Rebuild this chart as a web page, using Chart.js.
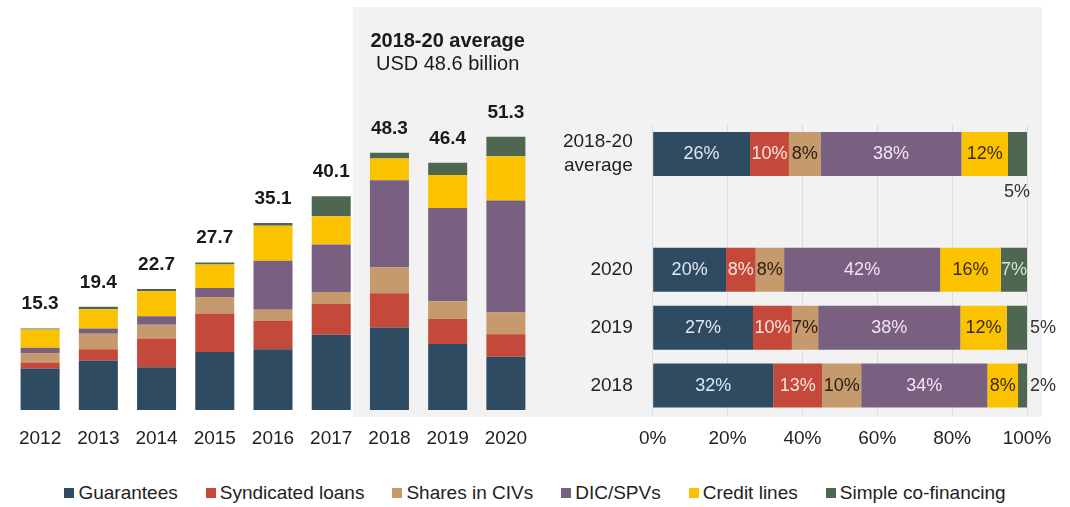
<!DOCTYPE html>
<html>
<head>
<meta charset="utf-8">
<script src="https://cdn.jsdelivr.net/npm/chart.js@4.4.1/dist/chart.umd.min.js"></script>
<style>
html,body{margin:0;padding:0;background:#fff;width:1070px;height:507px;overflow:hidden;font-family:"Liberation Sans",Arial,sans-serif;}
#panel{position:absolute;left:353px;top:7px;width:689px;height:410px;background:#f2f2f2;}
#c1{position:absolute;left:0;top:0;}
#c2{position:absolute;left:540px;top:100px;}
#legend{position:absolute;left:0;top:482px;width:1070px;display:flex;justify-content:center;align-items:center;font-size:19px;line-height:22px;color:#222;}
#legend .item{display:flex;align-items:center;margin:0 14px;}
#legend .sw{width:10px;height:10px;margin-right:4px;}
</style>
</head>
<body>
<div id="panel"></div>
<canvas id="c1" width="545" height="470"></canvas>
<canvas id="c2" width="530" height="370"></canvas>
<div id="legend"></div>
<script>
// ---- categories / series ----
const seriesNames = ['Guarantees', 'Syndicated loans', 'Shares in CIVs', 'DIC/SPVs', 'Credit lines', 'Simple co-financing'];
const seriesColors = ['#2e4b62', '#c4493b', '#c59a6d', '#7a6080', '#fbc200', '#4f6650'];
const labelColors = ['#dfe9f2', '#fde2dc', '#2b1d10', '#f0e6f3', '#3d2a05', '#d2e6d2'];

// Left chart: USD billion per year
const years = ['2012', '2013', '2014', '2015', '2016', '2017', '2018', '2019', '2020'];
const guarantees = [7.8, 9.3, 8.0, 10.9, 11.4, 14.1, 15.5, 12.4, 10.0];
const syndicated = [1.1, 2.1, 5.4, 7.2, 5.3, 5.8, 6.4, 4.7, 4.2];
const sharesCIV  = [1.8, 2.9, 2.6, 3.1, 2.1, 2.25, 4.9, 3.3, 4.1];
const dicSPV     = [1.0, 1.0, 1.6, 1.7, 9.2, 8.9, 16.3, 17.5, 21.0];
const creditLines= [3.4, 3.6, 4.7, 4.4, 6.6, 5.3, 4.1, 6.2, 8.3];
const simpleCof  = [0.2, 0.5, 0.4, 0.4, 0.5, 3.75, 1.1, 2.3, 3.7];
const totals     = [15.3, 19.4, 22.7, 27.7, 35.1, 40.1, 48.3, 46.4, 51.3];
const titleLines = ['2018-20 average', 'USD 48.6 billion'];

// Right chart: shares (%)
const shareRows = [['2018-20', 'average'], '', '2020', '2019', '2018'];
const shGuarantees = [26.0, null, 19.6, 26.8, 32.2];
const shSyndicated = [10.4, null, 7.9, 10.4, 13.1];
const shShares     = [8.4, null, 7.6, 7.0, 10.4];
const shDic        = [37.7, null, 41.7, 38.0, 33.7];
const shCredit     = [12.4, null, 16.2, 12.4, 8.2];
const shSimple     = [5.1, null, 7.0, 5.4, 2.4];
const pctTicks = [0, 20, 40, 60, 80, 100];

const FONT = "'Liberation Sans', Arial, sans-serif";
Chart.defaults.font.family = FONT;
Chart.defaults.color = '#222';

// ---- Left chart ----
const leftSeries = [guarantees, syndicated, sharesCIV, dicSPV, creditLines, simpleCof];
const totalsPlugin = {
  id: 'totals',
  afterDatasetsDraw(chart) {
    const ctx = chart.ctx, xs = chart.scales.x, ys = chart.scales.y;
    ctx.save();
    ctx.fillStyle = '#1a1a1a';
    ctx.font = 'bold 19px ' + FONT;
    ctx.textAlign = 'center';
    ctx.textBaseline = 'alphabetic';
    totals.forEach((t, i) => {
      ctx.fillText(t.toFixed(1), xs.getPixelForValue(i), ys.getPixelForValue(t) - 19);
    });
    const cx = xs.getPixelForValue(7);
    ctx.font = 'bold 20px ' + FONT;
    ctx.fillText(titleLines[0], cx, 47);
    ctx.font = '20px ' + FONT;
    ctx.fillText(titleLines[1], cx, 70);
    ctx.restore();
  }
};
new Chart(document.getElementById('c1'), {
  type: 'bar',
  data: {
    labels: years,
    datasets: leftSeries.map((d, i) => ({
      label: seriesNames[i], data: d, backgroundColor: seriesColors[i],
      borderWidth: 0, barPercentage: 0.67, categoryPercentage: 1
    }))
  },
  options: {
    responsive: false, animation: false,
    layout: { padding: { left: 11, right: 10, top: 37, bottom: 0 } },
    plugins: { legend: { display: false }, tooltip: { enabled: false } },
    scales: {
      x: {
        stacked: true,
        grid: { display: false, drawTicks: false },
        border: { display: false },
        ticks: { font: { size: 19 }, color: '#222', padding: 17 },
        afterFit(s) { s.height = 60; s.paddingLeft = 0; s.paddingRight = 0; }
      },
      y: { stacked: true, min: 0, max: 70, display: false }
    }
  },
  plugins: [totalsPlugin]
});

// ---- Right chart ----
const rightSeries = [shGuarantees, shSyndicated, shShares, shDic, shCredit, shSimple];
const pctPlugin = {
  id: 'pctLabels',
  afterDatasetsDraw(chart) {
    const ctx = chart.ctx;
    ctx.save();
    ctx.font = '18px ' + FONT;
    ctx.textBaseline = 'middle';
    chart.data.datasets.forEach((ds, di) => {
      const meta = chart.getDatasetMeta(di);
      meta.data.forEach((bar, i) => {
        const v = ds.data[i];
        if (v == null) return;
        const txt = Math.round(v) + '%';
        const w = Math.abs(bar.x - bar.base);
        if (di === 5 && w < 25) {
          ctx.fillStyle = '#333';
          if (i === 0) {
            ctx.textAlign = 'right';
            ctx.fillText(txt, bar.x + 3, bar.y + bar.height / 2 + 16);
          } else {
            ctx.textAlign = 'left';
            ctx.fillText(txt, bar.x + 3, bar.y);
          }
        } else {
          ctx.fillStyle = labelColors[di];
          ctx.textAlign = 'center';
          ctx.fillText(txt, (bar.x + bar.base) / 2, bar.y);
        }
      });
    });
    ctx.restore();
  }
};
new Chart(document.getElementById('c2'), {
  type: 'bar',
  data: {
    labels: shareRows,
    datasets: rightSeries.map((d, i) => ({
      label: seriesNames[i], data: d, backgroundColor: seriesColors[i],
      borderWidth: 0, barPercentage: 0.76, categoryPercentage: 1
    }))
  },
  options: {
    indexAxis: 'y',
    responsive: false, animation: false,
    layout: { padding: { left: 0, right: 43, top: 25, bottom: 0 } },
    plugins: { legend: { display: false }, tooltip: { enabled: false } },
    scales: {
      x: {
        stacked: true, min: 0, max: 100,
        afterBuildTicks(s) { s.ticks = pctTicks.map(v => ({ value: v })); },
        grid: { color: '#dcdcdc', drawTicks: false },
        border: { display: false },
        ticks: { font: { size: 19 }, color: '#222', padding: 13, callback: v => v + '%' },
        afterFit(s) { s.height = 55.5; s.paddingLeft = 0; s.paddingRight = 0; }
      },
      y: {
        stacked: true,
        grid: { display: false, drawTicks: false },
        border: { display: false },
        ticks: { font: { size: 19, lineHeight: 1.26 }, color: '#222', padding: 20 },
        afterFit(s) { s.width = 112.7; s.paddingTop = 0; s.paddingBottom = 0; }
      }
    }
  },
  plugins: [pctPlugin]
});

// ---- Legend ----
const lg = document.getElementById('legend');
seriesNames.forEach((n, i) => {
  const it = document.createElement('div'); it.className = 'item';
  const sw = document.createElement('span'); sw.className = 'sw'; sw.style.background = seriesColors[i];
  const tx = document.createElement('span'); tx.textContent = n;
  it.appendChild(sw); it.appendChild(tx); lg.appendChild(it);
});
</script>
</body>
</html>
